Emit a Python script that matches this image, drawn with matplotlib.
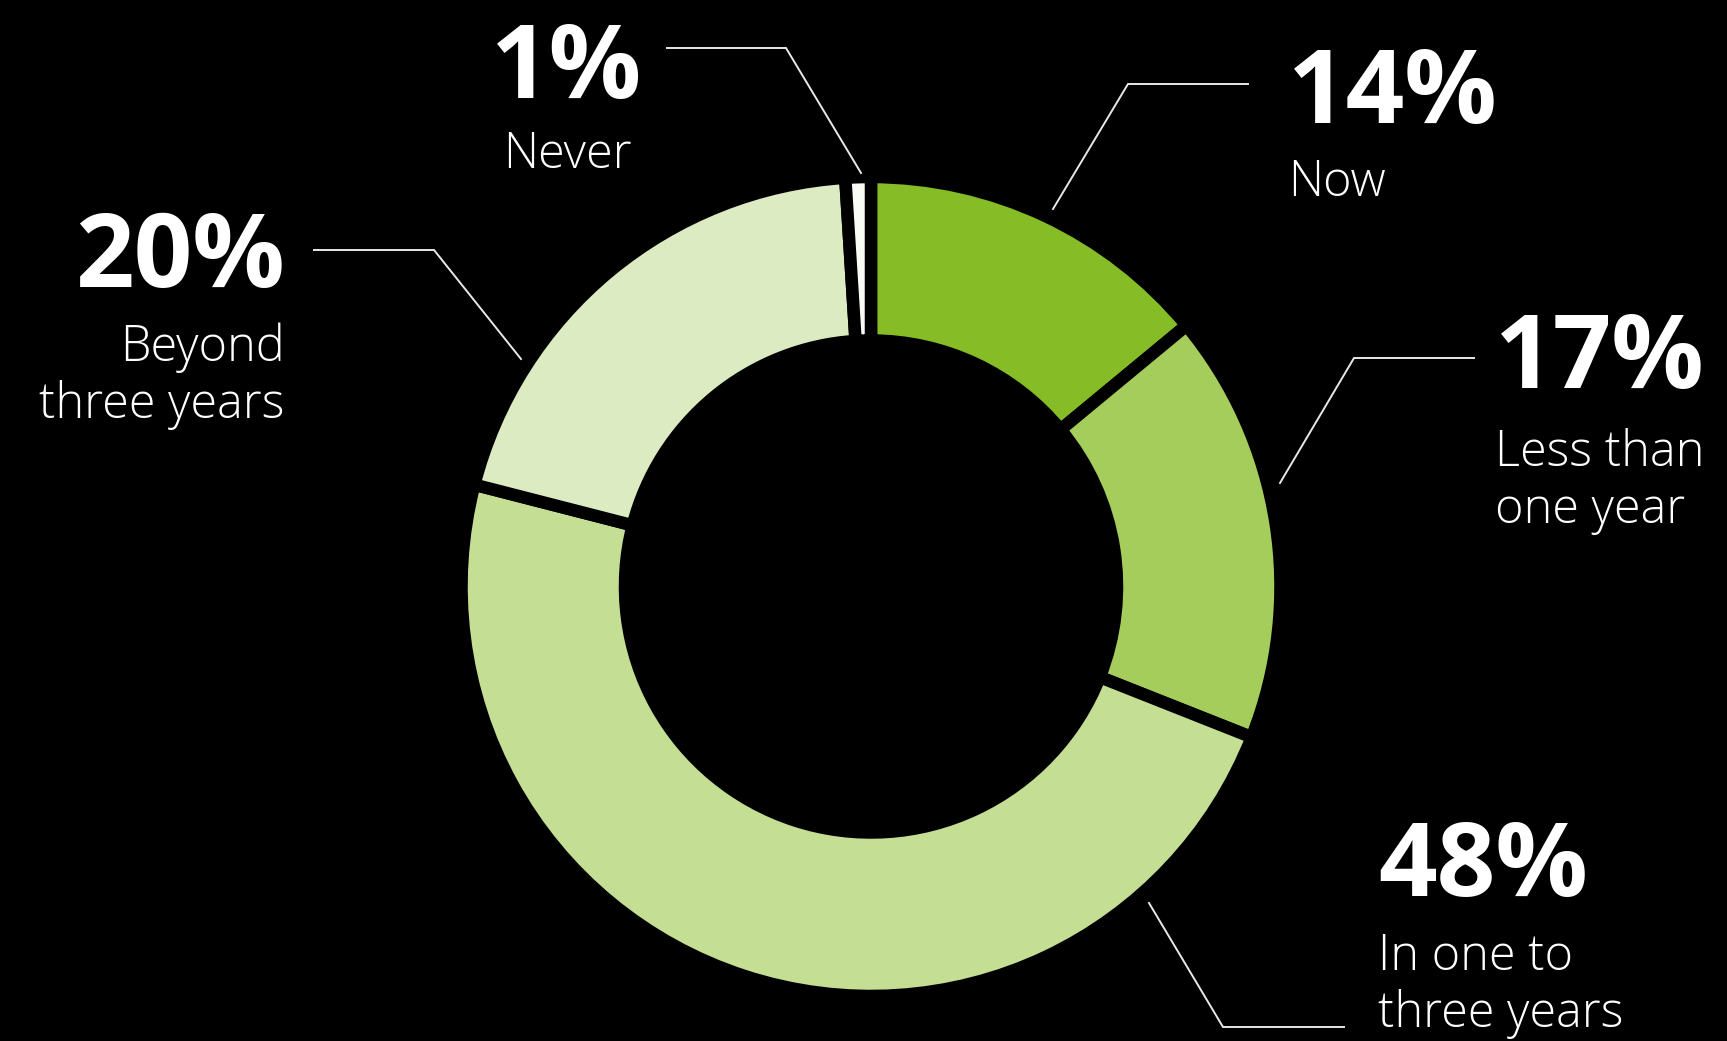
import matplotlib.pyplot as plt
from matplotlib import font_manager as fm

# share of respondents, clockwise from 12 o'clock
categories = ['Now', 'Less than\none year', 'In one to\nthree years', 'Beyond\nthree years', 'Never']
shares = [14, 17, 48, 20, 1]
colors = ['#86BC25', '#A5CD5B', '#C4DE94', '#DCEBC1', '#F9FBF5']

W, H = 1727, 1041
plt.rcParams['font.family'] = ['Open Sans', 'DejaVu Sans']

# thin (non-condensed) face for the category names if there is one
light_prop = fm.FontProperties(family='Open Sans', size=35)
for f in fm.fontManager.ttflist:
    if (f.name == 'Open Sans' and str(f.weight) in ('300', 'light')
            and f.style == 'normal' and str(f.stretch) in ('normal', '500')
            and 'ondensed' not in f.fname and 'emi' not in f.fname):
        light_prop = fm.FontProperties(fname=f.fname, size=35)
        break

fig = plt.figure(figsize=(W / 100, H / 100), dpi=100, facecolor='black')
ax = fig.add_axes([0, 0, 1, 1])
ax.set_facecolor('black')

cx, cy = 871, H - 586.5
ax.pie(shares, colors=colors, startangle=90, counterclock=False,
       radius=409.5, center=(cx, cy),
       wedgeprops=dict(width=163.5, edgecolor='black', linewidth=9))

ax.set_xlim(0, W)
ax.set_ylim(0, H)
ax.set_aspect('equal')
ax.axis('off')

# label layout in image pixels (x, baseline y, alignment)
label_pos = [
    (1288, 123, 'left'),
    (1495, 388, 'left'),
    (1378, 896, 'left'),
    (285, 287, 'right'),
    (567, 98, 'center'),
]
first_line_gap = [73, 78, 74, 74, 70]
line_gap = 57

leaders = [
    [(1053, 209), (1128, 84), (1248, 84)],
    [(1280, 483), (1354, 358), (1474, 358)],
    [(1149, 903), (1223, 1027), (1344, 1027)],
    [(521, 359), (434, 250), (314, 250)],
    [(861, 173), (786, 48), (667, 48)],
]

for cat, val, (x, y, ha), gap, pts in zip(categories, shares, label_pos,
                                          first_line_gap, leaders):
    ax.text(x, H - y, f'{val}%', color='white', fontsize=74,
            fontweight='bold', ha=ha, va='baseline')
    for i, line in enumerate(cat.split('\n')):
        ax.text(x, H - (y + gap + i * line_gap), line, color='white',
                fontproperties=light_prop, ha=ha, va='baseline')
    ax.plot([p[0] for p in pts], [H - p[1] for p in pts],
            color='#e8e8e8', lw=1.4, solid_joinstyle='miter')

fig.savefig('out.png', dpi=100, facecolor='black')
